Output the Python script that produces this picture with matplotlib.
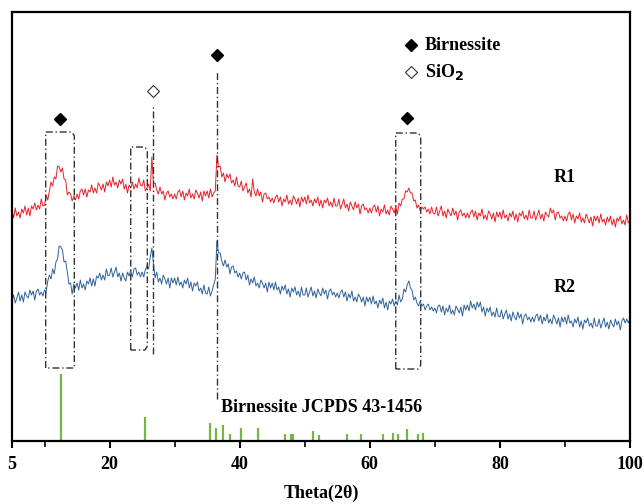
#!/usr/bin/env python3
"""XRD patterns of R1 / R2 with the birnessite reference sticks."""

import numpy as np
import matplotlib

matplotlib.use("Agg")
import matplotlib.pyplot as plt

plt.rcParams["font.family"] = ["Liberation Serif", "DejaVu Serif"]
plt.rcParams["font.weight"] = "bold"

# 2theta sampling of the traces (0.25 deg steps, 5..100)
theta = np.arange(5.0, 100.001, 0.25)

# intensities (arbitrary units, one row = 5 deg)
r1 = [
    230, 223, 233, 225, 229, 223, 232, 228, 235, 226, 233, 225, 235, 232, 238, 231, 236, 232, 242, 235,
    236, 246, 241, 250, 259, 255, 264, 262, 275, 274, 269, 273, 262, 261, 246, 249, 247, 240, 245, 241,
    247, 242, 250, 252, 246, 252, 244, 251, 249, 256, 248, 253, 248, 258, 255, 251, 257, 249, 259, 255,
    261, 254, 264, 256, 259, 253, 261, 257, 262, 252, 257, 248, 256, 253, 259, 252, 257, 253, 263, 256,
    255, 261, 250, 253, 257, 250, 284, 257, 258, 251, 247, 254, 247, 250, 241, 248, 250, 244, 247, 242,
    247, 242, 249, 251, 244, 250, 241, 248, 245, 252, 243, 247, 242, 251, 248, 243, 249, 240, 250, 245,
    250, 243, 252, 244, 248, 250, 286, 274, 275, 264, 268, 259, 267, 263, 267, 258, 261, 255, 264, 255,
    254, 260, 250, 254, 258, 248, 252, 244, 262, 249, 245, 252, 245, 249, 239, 247, 248, 242, 244, 239,
    243, 238, 244, 246, 239, 244, 235, 242, 239, 246, 237, 241, 236, 245, 242, 237, 243, 234, 244, 239,
    244, 237, 246, 238, 241, 235, 242, 238, 244, 235, 241, 233, 241, 238, 243, 235, 239, 234, 243, 235,
    235, 242, 232, 237, 242, 233, 237, 230, 239, 235, 231, 239, 233, 237, 227, 235, 237, 231, 233, 228,
    233, 228, 234, 236, 229, 235, 225, 232, 229, 236, 227, 231, 226, 235, 232, 228, 235, 227, 238, 235,
    242, 242, 250, 249, 253, 248, 248, 240, 241, 233, 236, 230, 234, 232, 234, 229, 232, 227, 234, 228,
    227, 234, 225, 230, 235, 225, 230, 223, 232, 228, 225, 233, 226, 230, 221, 229, 231, 225, 228, 223,
    228, 223, 229, 231, 224, 230, 221, 228, 225, 232, 222, 226, 221, 230, 227, 222, 228, 219, 229, 224,
    229, 222, 231, 223, 226, 220, 228, 224, 230, 221, 227, 219, 228, 225, 230, 222, 226, 221, 231, 223,
    223, 230, 221, 226, 231, 222, 227, 220, 229, 226, 224, 233, 228, 231, 221, 228, 229, 223, 225, 220,
    225, 220, 227, 229, 221, 227, 218, 225, 222, 228, 219, 223, 218, 227, 223, 218, 224, 215, 225, 220,
    225, 218, 227, 219, 222, 216, 224, 219, 225, 216, 222, 214, 223, 220, 225, 217, 221, 216, 226, 218,
    221,
]
r2 = [
    139, 146, 138, 143, 149, 140, 146, 139, 149, 145, 143, 151, 146, 150, 141, 150, 152, 146, 149, 145,
    151, 149, 160, 166, 162, 172, 167, 179, 182, 195, 194, 191, 179, 180, 169, 157, 158, 147, 157, 153,
    158, 151, 161, 153, 157, 151, 160, 157, 163, 155, 162, 155, 165, 163, 168, 161, 166, 161, 172, 165,
    166, 173, 164, 169, 174, 164, 168, 160, 168, 163, 160, 169, 165, 171, 164, 172, 173, 166, 169, 164,
    169, 164, 171, 175, 172, 184, 193, 177, 163, 169, 159, 163, 157, 166, 162, 157, 163, 153, 163, 158,
    163, 156, 164, 156, 159, 153, 161, 157, 163, 153, 159, 150, 158, 155, 159, 150, 153, 147, 156, 148,
    147, 154, 145, 150, 156, 162, 200, 188, 188, 180, 175, 181, 174, 177, 167, 174, 175, 168, 170, 164,
    168, 162, 168, 169, 161, 166, 156, 162, 158, 164, 155, 158, 153, 161, 158, 153, 158, 149, 159, 153,
    158, 151, 159, 151, 154, 147, 155, 151, 156, 147, 152, 144, 153, 149, 154, 146, 150, 144, 154, 146,
    146, 153, 144, 149, 154, 145, 150, 143, 152, 148, 145, 153, 147, 151, 142, 150, 152, 146, 149, 144,
    148, 143, 149, 151, 144, 149, 140, 147, 143, 150, 140, 144, 139, 147, 144, 139, 144, 135, 144, 139,
    144, 137, 145, 137, 140, 133, 141, 137, 143, 133, 139, 131, 140, 137, 142, 135, 140, 136, 146, 139,
    142, 152, 149, 156, 160, 153, 151, 141, 144, 138, 135, 140, 135, 137, 131, 135, 137, 131, 134, 130,
    133, 128, 135, 136, 129, 135, 126, 133, 129, 136, 127, 131, 126, 135, 132, 128, 134, 125, 136, 131,
    136, 130, 140, 133, 137, 131, 139, 134, 139, 129, 134, 125, 133, 129, 134, 125, 129, 124, 133, 125,
    124, 131, 122, 127, 131, 122, 127, 120, 129, 124, 121, 129, 123, 127, 117, 125, 127, 121, 124, 119,
    124, 119, 125, 127, 120, 126, 117, 124, 120, 127, 118, 122, 117, 126, 122, 117, 123, 114, 124, 119,
    124, 117, 126, 118, 120, 114, 122, 118, 124, 114, 120, 112, 121, 118, 123, 115, 118, 113, 123, 115,
    115, 122, 113, 118, 123, 114, 119, 112, 121, 117, 114, 122, 116, 120, 111, 120, 123, 118, 122, 118,
    123,
]

# JCPDS 43-1456 reference lines
jcpds_pos = [12.6, 25.45, 35.5, 36.35, 37.4, 38.5, 40.2, 42.75, 46.9, 47.95,
             48.2, 51.3, 52.2, 56.55, 58.6, 62.1, 63.5, 64.35, 65.75, 67.35, 68.2]
jcpds_int = [67, 24, 18, 13, 16, 7, 13, 13, 7, 7,
             7.5, 10, 6, 7, 7, 7, 8, 7.5, 12, 7, 8.5]

# phase markers
birn_pos = [12.4, 36.56, 65.7]
birn_h = [322, 386, 323]
sio2_pos = [26.72]
sio2_h = [350]

RED = "#e8202a"
BLUE = "#2f6399"
GREEN = "#72b843"
DASHDOT = (0, (5, 2, 1, 2))

assert len(r1) == len(theta) and len(r2) == len(theta), (len(theta), len(r1), len(r2))


def dashdot_box(ax, x0, x1, y0, y1, bevel_bottom=False):
    dx, dy = 0.35, 4
    xs = [x0, x0, x1 - dx, x1, x1]
    ys = [y0, y1, y1, y1 - dy, y0 + (dy if bevel_bottom else 0)]
    if bevel_bottom:
        xs += [x1 - dx]
        ys += [y0]
    xs += [x0]
    ys += [y0]
    ax.plot(xs, ys, color="#333333", lw=1.0, ls=DASHDOT)


fig = plt.figure(figsize=(6.44, 5.04), dpi=100)
ax = fig.add_axes([12 / 644, 1 - 441 / 504, 618 / 644, 429 / 504])

ax.plot(theta, r1, color=RED, lw=0.7)
ax.plot(theta, r2, color=BLUE, lw=0.7)
ax.vlines(jcpds_pos, 0, jcpds_int, color=GREEN, lw=1.6)

ax.plot(birn_pos, birn_h, ls="none", marker="D", ms=6, color="black")
ax.plot(sio2_pos, sio2_h, ls="none", marker="D", ms=6, mfc="white", mec="#333333", mew=0.8)

dashdot_box(ax, 10.18, 14.58, 73, 309)
dashdot_box(ax, 23.25, 25.8, 91, 294, bevel_bottom=True)
dashdot_box(ax, 63.99, 67.83, 72, 308, bevel_bottom=True)
ax.plot([26.72, 26.72], [87, 336], color="#333333", lw=1.0, ls=DASHDOT)
ax.plot([36.56, 36.56], [42, 371], color="#333333", lw=1.0, ls=DASHDOT)

# legend drawn by hand
ax.plot([66.34], [396], ls="none", marker="D", ms=6, color="black")
ax.plot([66.34], [369], ls="none", marker="D", ms=6, mfc="white", mec="#333333", mew=0.8)
ax.text(68.5, 396, "Birnessite", fontsize=13, fontweight="bold", va="center")
ax.text(68.5, 369, "SiO$_\\mathbf{2}$", fontsize=13, fontweight="bold", va="center")

ax.text(88.2, 263, "R1", fontsize=13, fontweight="bold", va="center")
ax.text(88.2, 154, "R2", fontsize=13, fontweight="bold", va="center")
ax.text(52.6, 34, "Birnessite JCPDS 43-1456", fontsize=13, fontweight="bold",
        ha="center", va="center")

ax.set_xlim(5, 100)
ax.set_ylim(0, 429)
ax.set_xticks([5, 20, 40, 60, 80, 100])
ax.set_xticks([10, 30, 50, 70, 90], minor=True)
ax.set_yticks([])
ax.tick_params(axis="x", which="major", direction="out", length=5, width=1.5,
               labelsize=13, pad=6)
ax.tick_params(axis="x", which="minor", direction="out", length=4, width=1.2)
for lab in ax.get_xticklabels():
    lab.set_fontweight("bold")
for side in ["left", "right", "top", "bottom"]:
    ax.spines[side].set_linewidth(1.6)
ax.set_xlabel("Theta(2θ)", fontsize=13, fontweight="bold", labelpad=8)

fig.savefig("out.png", dpi=100)
